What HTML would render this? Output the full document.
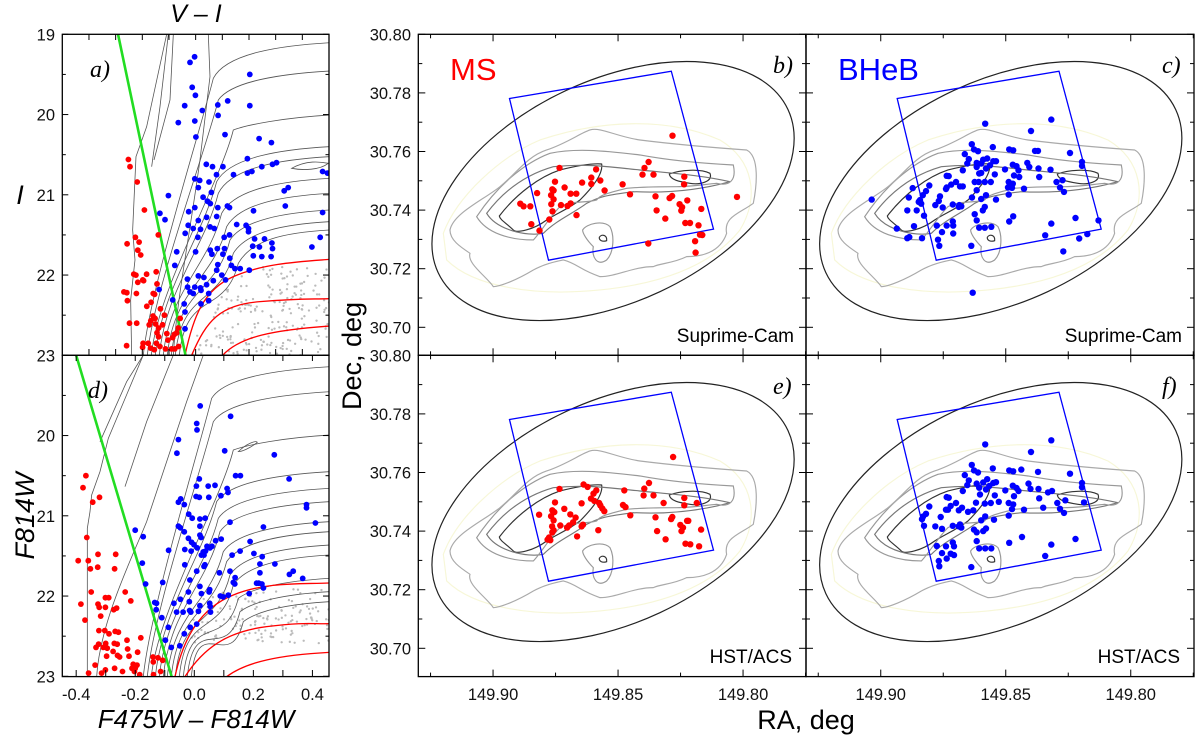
<!DOCTYPE html>
<html><head><meta charset="utf-8">
<style>
html,body{margin:0;padding:0;background:#fff;}
svg{display:block;font-family:"Liberation Sans",sans-serif;}
.tick{font-size:16.5px;fill:#111;}
</style></head>
<body>
<svg id="fig" width="1200" height="741" viewBox="0 0 1200 741" xmlns="http://www.w3.org/2000/svg">
<defs>
<clipPath id="clipA"><rect x="62.3" y="34.3" width="266.7" height="321"/></clipPath>
<clipPath id="clipD"><rect x="62.3" y="355.3" width="266.7" height="321.3"/></clipPath>
<clipPath id="clipB"><rect x="418.3" y="34.3" width="387.7" height="321"/></clipPath>
<clipPath id="clipC"><rect x="806" y="34.3" width="388" height="321"/></clipPath>
<clipPath id="clipE"><rect x="418.3" y="355.3" width="387.7" height="321.3"/></clipPath>
<clipPath id="clipF"><rect x="806" y="355.3" width="388" height="321.3"/></clipPath>
</defs>
<g id="layer"></g>
<text x="196" y="22" font-size="25" font-style="italic" text-anchor="middle">V – I</text>
<text x="20" y="204" font-size="27" font-style="italic" text-anchor="middle">I</text>
<text transform="translate(34,516) rotate(-90)" font-size="27" font-style="italic" text-anchor="middle">F814W</text>
<text x="196" y="728" font-size="26" font-style="italic" text-anchor="middle">F475W – F814W</text>
<text transform="translate(361,356) rotate(-90)" font-size="27" text-anchor="middle">Dec, deg</text>
<text x="806" y="729" font-size="27" text-anchor="middle">RA, deg</text>
<text x="90" y="77" font-size="24" font-style="italic" font-family="Liberation Serif,serif">a)</text>
<text x="88" y="398" font-size="24" font-style="italic" font-family="Liberation Serif,serif">d)</text>
<text x="773" y="73" font-size="24" font-style="italic" font-family="Liberation Serif,serif">b)</text>
<text x="1162" y="73" font-size="24" font-style="italic" font-family="Liberation Serif,serif">c)</text>
<text x="773" y="394" font-size="24" font-style="italic" font-family="Liberation Serif,serif">e)</text>
<text x="1162" y="394" font-size="24" font-style="italic" font-family="Liberation Serif,serif">f)</text>
<text x="450" y="80" font-size="31" fill="#ff0000">MS</text>
<text x="838" y="80" font-size="31" fill="#0000ff">BHeB</text>
<text x="794" y="342" font-size="19" text-anchor="end">Suprime-Cam</text>
<text x="1182" y="342" font-size="19" text-anchor="end">Suprime-Cam</text>
<text x="792" y="663" font-size="19" text-anchor="end">HST/ACS</text>
<text x="1180" y="663" font-size="19" text-anchor="end">HST/ACS</text>
</svg>
<script>
// ---------- CMD data (colour, magnitude) ----------
const cmdTopRedColor=[-.252,-.246,-.219,-.192,-.257,-.226,-.212,-.217,-.206,-.140,-.232,-.224,-.217,-.195,-.184,-.198,-.269,-.256,-.258,-.222,-.148,-.145,-.159,-.154,-.167,-.183,-.132,-.117,-.160,-.152,-.168,-.174,-.150,-.139,-.124,-.145,-.139,-.108,-.080,-.104,-.086,-.071,-.058,-.065,-.259,-.197,-.199,-.169,-.155,-.134,-.113,-.090,-.078,-.064,-.221,-.248,-.178,-.147];
const cmdTopRedMag=[20.56,20.65,20.84,21.19,21.61,21.53,21.59,21.69,21.75,21.50,21.99,22.00,22.09,22.07,21.99,22.06,22.21,22.32,22.22,22.23,21.96,22.11,22.23,22.24,22.34,22.39,22.42,22.50,22.51,22.54,22.57,22.62,22.61,22.66,22.62,22.72,22.77,22.73,22.74,22.81,22.78,22.72,22.54,22.66,22.88,22.85,22.90,22.91,22.93,22.89,22.92,22.92,22.92,22.89,22.60,22.60,22.85,22.85];
const cmdTopBlueColor=[-.004,-.021,-.013,-.001,-.041,.025,-.003,-.065,.083,.084,.120,.001,.110,.203,.203,.238,.284,.040,.063,.102,-.003,.015,.078,.142,.194,.194,.211,.248,.288,.303,.476,.494,.010,.050,.059,.028,.044,.055,.083,.119,.127,-.102,-.134,-.115,-.026,-.003,.010,.041,.079,-.028,-.009,.018,.008,-.039,.054,.070,.107,.127,.154,.189,.198,.198,.221,.258,.286,.217,.332,.347,.336,.476,.467,.436,-.071,-.078,.000,.055,.061,.081,.102,.108,.083,.128,.134,.147,.167,.201,.216,.248,.283,.288,.214,.239,.079,.098,.112,.066,.010,.031,.041,.018,-.003,-.021,-.009,.020,.049,-.030,-.137,-.031,-.086,-.043,-.040,.020,.049,-.040];
const cmdTopBlueMag=[19.28,19.35,19.66,19.76,19.89,19.95,20.08,20.10,19.88,20.01,19.83,20.28,20.25,19.50,19.89,20.30,20.35,20.62,20.65,20.65,20.80,20.82,20.75,20.75,20.55,20.73,20.71,20.65,20.62,20.60,20.71,20.73,20.91,20.84,20.97,21.03,21.08,21.11,21.16,21.14,21.16,21.01,21.23,21.31,21.21,21.16,21.32,21.28,21.27,21.38,21.42,21.43,21.53,21.48,21.40,21.42,21.53,21.50,21.37,21.38,21.42,21.46,21.55,21.55,21.60,21.20,20.95,20.91,21.14,21.22,21.53,21.65,21.71,21.88,21.71,21.69,21.74,21.67,21.74,21.67,21.87,21.79,21.88,21.92,21.92,21.94,21.76,21.77,21.77,21.67,21.64,21.65,21.94,22.00,22.06,22.07,22.01,22.03,22.12,22.16,22.15,22.21,22.23,22.19,22.23,22.15,22.18,22.05,22.31,22.36,22.46,22.36,22.32,22.67];
const cmdBotRedColor=[-.367,-.377,-.344,-.321,-.364,-.393,-.359,-.352,-.326,-.327,-.266,-.270,-.349,-.301,-.290,-.234,-.384,-.326,-.322,-.317,-.370,-.273,-.263,-.301,-.215,-.323,-.303,-.268,-.257,-.289,-.228,-.324,-.300,-.271,-.261,-.308,-.295,-.333,-.275,-.260,-.226,-.192,-.181,-.297,-.253,-.221,-.207,-.194,-.200,-.211,-.336,-.301,-.270,-.243,-.203,-.185,-.140,-.123,-.107,-.138,-.114,-.358,-.314,-.139];
const cmdBotRedMag=[20.50,20.65,20.83,20.77,21.27,21.56,21.56,21.66,21.48,21.64,21.48,21.66,21.95,22.02,22.02,21.95,22.10,22.10,22.14,22.25,22.30,22.17,22.15,22.14,22.06,22.43,22.43,22.44,22.45,22.47,22.55,22.60,22.59,22.59,22.60,22.64,22.65,22.64,22.69,22.74,22.66,22.70,22.52,22.75,22.76,22.75,22.85,22.86,22.90,22.90,22.86,22.92,22.90,22.94,22.94,22.98,22.76,22.77,22.80,22.98,22.94,22.96,22.96,22.82];
const cmdBotBlueColor=[.020,.123,.008,.009,-.054,-.059,.103,.271,.017,.007,.047,.070,.140,.156,.111,.114,.090,.321,.017,.049,.006,-.046,-.034,-.054,.380,.380,.410,-.019,-.007,.019,.037,-.054,-.047,-.034,.121,.234,-.200,-.173,.019,.019,.023,-.020,-.009,-.001,.010,-.011,.043,.072,.060,.053,-.087,-.032,.030,.038,.024,.033,.091,.155,.189,.202,.230,.128,.036,.033,-.176,-.032,.008,-.015,.085,.121,.138,.137,.132,.222,.222,.273,.322,.335,.367,-.107,-.165,.019,.024,.052,.050,-.020,.088,.098,.115,.186,.211,.218,.229,.234,-.069,-.047,-.017,.019,.052,.054,-.134,-.128,-.129,-.060,-.038,-.016,-.012,.014,.055,-.110,-.088,-.034,-.014,.008,-.098,-.078,-.049];
const cmdBotBlueMag=[19.63,19.76,19.85,19.93,20.05,20.22,20.19,20.24,20.54,20.63,20.63,20.62,20.50,20.50,20.66,20.71,20.75,20.54,20.77,20.77,20.76,20.79,20.86,20.83,20.86,20.90,21.09,20.98,21.03,21.04,21.03,21.13,21.15,21.20,21.08,21.14,21.18,21.26,21.13,21.24,21.27,21.28,21.33,21.36,21.40,21.44,21.38,21.31,21.38,21.40,21.43,21.42,21.45,21.44,21.49,21.49,21.29,21.44,21.32,21.47,21.51,21.49,21.61,21.63,21.59,21.61,21.69,21.80,21.71,21.69,21.77,21.85,21.83,21.60,21.71,21.60,21.73,21.69,21.78,21.83,21.85,21.88,21.97,21.92,21.95,21.95,22.00,22.01,21.99,21.97,21.84,21.84,21.85,21.90,22.09,22.04,22.07,22.12,22.09,22.13,22.08,22.09,22.17,22.20,22.20,22.18,22.20,22.19,22.20,22.27,22.39,22.47,22.39,22.35,22.55,22.64,22.62];
const sepTop=[-0.291,-0.038];
const sepBot=[-0.400,-0.077];
const magTicks=[19,20,21,22,23];
const colorTicks=[-0.4,-0.2,0.0,0.2,0.4];

// ---------- Sky data (RA, Dec) ----------
const msSupRA=[149.8734,149.8752,149.8588,149.8607,149.8571,149.8607,149.8644,149.8714,149.8763,149.8758,149.8824,149.8768,149.8758,149.8690,149.8667,149.8728,149.8767,149.8690,149.8702,149.8762,149.8666,149.8775,149.8891,149.8878,149.8851,149.8847,149.8814,149.8554,149.8482,149.8452,149.8378,149.8394,149.8402,149.8358,149.8282,149.8235,149.8236,149.8350,149.8284,149.8294,149.8254,149.8223,149.8244,149.8247,149.8346,149.8311,149.8231,149.8212,149.8167,149.8178,149.8172,149.8163,149.8192,149.8190,149.8379,149.8024];
const msSupDec=[30.7544,30.7497,30.7539,30.7511,30.7501,30.7489,30.7494,30.7477,30.7471,30.7467,30.7458,30.7451,30.7437,30.7456,30.7456,30.7417,30.7420,30.7423,30.7414,30.7396,30.7383,30.7368,30.7422,30.7413,30.7413,30.7352,30.7330,30.7467,30.7488,30.7454,30.7564,30.7544,30.7521,30.7521,30.7654,30.7514,30.7488,30.7447,30.7448,30.7441,30.7420,30.7433,30.7410,30.7398,30.7399,30.7371,30.7356,30.7356,30.7404,30.7348,30.7316,30.7315,30.7294,30.7255,30.7286,30.7445];
const bhebSupRA=[149.9036,149.8582,149.8318,149.8399,149.8636,149.8552,149.8627,149.8611,149.8664,149.8648,149.8486,149.8470,149.8383,149.8371,149.8243,149.8590,149.8574,149.8550,149.8539,149.8598,149.8616,149.8654,149.8563,149.8579,149.8616,149.8472,149.8414,149.8406,149.8457,149.8449,149.8503,149.8369,149.8321,149.8195,149.8195,149.8672,149.8606,149.8598,149.8544,149.8467,149.8446,149.8366,149.8736,149.8728,149.8699,149.8718,149.8736,149.8739,149.8672,149.8624,149.8608,149.8584,149.8560,149.8488,149.8472,149.8491,149.8475,149.8427,149.8297,149.8273,149.8283,149.8267,149.8806,149.8872,149.8819,149.8832,149.8888,149.8843,149.8848,149.8838,149.8856,149.8894,149.8768,149.8782,149.8752,149.8712,149.8686,149.8678,149.8688,149.8635,149.8616,149.8598,149.8579,149.8539,149.8488,149.8584,149.8592,149.8624,149.8616,149.8827,149.8776,149.8736,149.8710,149.8712,149.8606,149.8584,149.8558,149.8470,149.8486,149.8867,149.8936,149.8886,149.8894,149.8835,149.8755,149.8710,149.8771,149.8766,149.8638,149.8342,149.8318,149.8221,149.8129,149.8174,149.8206,149.8270,149.8632,149.8763,149.8683];
const bhebSupDec=[30.7436,30.7695,30.7709,30.7670,30.7625,30.7615,30.7607,30.7601,30.7591,30.7574,30.7607,30.7604,30.7602,30.7602,30.7595,30.7572,30.7576,30.7567,30.7567,30.7559,30.7561,30.7559,30.7553,30.7542,30.7547,30.7555,30.7561,30.7547,30.7550,30.7536,30.7539,30.7542,30.7538,30.7564,30.7551,30.7536,30.7525,30.7527,30.7522,30.7518,30.7513,30.7513,30.7517,30.7516,30.7496,30.7487,30.7477,30.7472,30.7481,30.7496,30.7496,30.7496,30.7496,30.7496,30.7490,30.7477,30.7476,30.7473,30.7496,30.7502,30.7477,30.7462,30.7484,30.7475,30.7465,30.7451,30.7443,30.7434,30.7428,30.7422,30.7399,30.7399,30.7431,30.7417,30.7409,30.7419,30.7417,30.7413,30.7411,30.7443,30.7468,30.7438,30.7451,30.7436,30.7453,30.7411,30.7399,30.7386,30.7365,30.7381,30.7347,30.7347,30.7347,30.7361,30.7340,30.7340,30.7343,30.7379,30.7361,30.7345,30.7337,30.7308,30.7304,30.7304,30.7325,30.7320,30.7299,30.7278,30.7278,30.7314,30.7354,30.7373,30.7365,30.7318,30.7303,30.7259,30.7118,30.7447,30.7481];
const msHstRA=[149.8280,149.8638,149.8622,149.8587,149.8598,149.8734,149.8475,149.8376,149.8395,149.8398,149.8358,149.8318,149.8235,149.8185,149.8235,149.8608,149.8595,149.8576,149.8571,149.8555,149.8563,149.8752,149.8715,149.8646,149.8691,149.8670,149.8816,149.8763,149.8755,149.8768,149.8758,149.8680,149.8696,149.8704,149.8640,149.8646,149.8731,149.8764,149.8758,149.8763,149.8480,149.8470,149.8451,149.8350,149.8283,149.8288,149.8251,149.8224,149.8219,149.8240,149.8246,149.8168,149.8344,149.8310,149.8579,149.8664,149.8776,149.8782,149.8771,149.8230,149.8211,149.8176];
const msHstDec=[30.7653,30.7559,30.7551,30.7539,30.7528,30.7544,30.7539,30.7564,30.7545,30.7522,30.7522,30.7496,30.7513,30.7496,30.7488,30.7511,30.7503,30.7496,30.7488,30.7468,30.7477,30.7498,30.7476,30.7495,30.7457,30.7446,30.7456,30.7471,30.7465,30.7451,30.7437,30.7430,30.7419,30.7412,30.7422,30.7416,30.7419,30.7416,30.7403,30.7396,30.7489,30.7482,30.7454,30.7447,30.7448,30.7441,30.7421,30.7435,30.7435,30.7412,30.7400,30.7405,30.7400,30.7372,30.7403,30.7382,30.7378,30.7371,30.7369,30.7357,30.7355,30.7348];
const bhebHstRA=[149.8582,149.8318,149.8399,149.8636,149.8552,149.8627,149.8611,149.8664,149.8648,149.8486,149.8470,149.8438,149.8371,149.8243,149.8590,149.8574,149.8550,149.8539,149.8616,149.8654,149.8566,149.8579,149.8606,149.8472,149.8409,149.8401,149.8457,149.8449,149.8502,149.8369,149.8331,149.8315,149.8195,149.8195,149.8672,149.8603,149.8544,149.8467,149.8366,149.8736,149.8728,149.8699,149.8720,149.8739,149.8675,149.8619,149.8584,149.8560,149.8528,149.8488,149.8470,149.8475,149.8427,149.8350,149.8294,149.8262,149.8283,149.8267,149.8187,149.8806,149.8819,149.8830,149.8835,149.8827,149.8760,149.8731,149.8688,149.8651,149.8630,149.8582,149.8598,149.8547,149.8488,149.8782,149.8755,149.8712,149.8688,149.8678,149.8683,149.8627,149.8616,149.8590,149.8579,149.8616,149.8776,149.8739,149.8712,149.8707,149.8606,149.8582,149.8558,149.8486,149.8435,149.8755,149.8736,149.8768,149.8766,149.8638,149.8342,149.8318,149.8221,149.8720,149.8707];
const bhebHstDec=[30.7696,30.7710,30.7670,30.7626,30.7614,30.7607,30.7600,30.7591,30.7573,30.7607,30.7604,30.7610,30.7602,30.7596,30.7566,30.7577,30.7564,30.7567,30.7562,30.7557,30.7554,30.7542,30.7548,30.7555,30.7562,30.7544,30.7547,30.7537,30.7539,30.7544,30.7532,30.7537,30.7564,30.7550,30.7537,30.7525,30.7522,30.7519,30.7512,30.7516,30.7514,30.7496,30.7486,30.7473,30.7480,30.7497,30.7494,30.7496,30.7500,30.7496,30.7491,30.7475,30.7473,30.7480,30.7496,30.7505,30.7476,30.7462,30.7498,30.7484,30.7459,30.7450,30.7441,30.7418,30.7448,30.7473,30.7471,30.7466,30.7471,30.7450,30.7437,30.7439,30.7453,30.7416,30.7408,30.7418,30.7416,30.7412,30.7423,30.7405,30.7396,30.7400,30.7409,30.7366,30.7349,30.7348,30.7361,30.7348,30.7341,30.7341,30.7341,30.7360,30.7380,30.7325,30.7306,30.7298,30.7280,30.7277,30.7315,30.7354,30.7373,30.7323,30.7318];
const acsBoxRA=[149.8934,149.8287,149.8118,149.8778];
const acsBoxDec=[30.7781,30.7874,30.7335,30.7229];
const decTicks=[30.80,30.78,30.76,30.74,30.72,30.70];
const raTicks=[149.90,149.85,149.80];

const NS="http://www.w3.org/2000/svg";
const layer=document.getElementById('layer');
function mk(tag,attrs,parent){const e=document.createElementNS(NS,tag);for(const k in attrs)e.setAttribute(k,attrs[k]);(parent||layer).appendChild(e);return e;}

const cmdX={top:c=>62.3+(c+0.5)*266.7, bot:c=>62.3+(c+0.447)*295.3};
const cmdY={top:m=>34.3+(m-19)*80.25, bot:m=>355.3+(m-19)*80.25};
const raX=(ra,col)=>(col===0?418.3:806)+(149.9299-ra)*2500;
const decY=(d,row)=>(row===0?34.3:355.3)+(30.80-d)*2930;

function cmdPanel(which,clip,oy){
  const g=mk('g',{'clip-path':'url(#'+clip+')'});
  
  
  const z=mk('g',{transform:'translate(0,'+oy+') scale(0.3333)'},g);
  
  
  let s=which==='top'?12345:54321;
  const rnd=()=>{s=(s*1103515245+12345)%2147483648;return s/2147483648;};
  for(let i=0;i<260;i++){
    const x=560+rnd()*430, y=800+rnd()*266;
    const yr=which==='top'? 1066-(x-555)*1.6 : 965-(x-525)*1.6;
    const lim=which==='top'?Math.max(yr,790):Math.max(yr,690);
    if(y>lim && (which==='top'||y<965)) mk('circle',{cx:x,cy:(which==='top'?y:y-100),r:3.5,fill:'#bbb'},z);
  }
  const B=which==='top'?1066:965;
  const ends=which==='top'?[128,213,345,440,470,535,580,630,665,690]:[35,110,240,350,400,440,500,530,570,600,670,710,740];
  const knees=which==='top'?[[640,235],[655,300],[700,390],[650,545],[655,580],[665,640],[680,680],[690,720],[700,760],[715,790]]:[[635,130],[640,200],[700,285],[650,440],[655,490],[660,530],[670,590],[680,620],[690,660],[700,690],[715,730],[720,770],[730,800]];
  ends.forEach((ye,i)=>{
    const [kx,ky]=knees[i]; const xb=430+i*12;
    mk('path',{d:`M${xb},${B} C${xb+20},${B-200} ${kx-40},${ky+160} ${kx},${ky} C${kx+40},${ye+30} 850,${ye+8} 990,${ye}`,fill:'none',stroke:'#555','stroke-width':2.4},z);
  });
  if(which==='top'){
    mk('path',{d:'M395,1066 L392,900 L405,780 L398,690 L408,470 L440,380 L500,103',fill:'none',stroke:'#555','stroke-width':2.4},z);
    mk('path',{d:'M455,500 L480,320 L505,103 M462,480 L510,300 L520,103',fill:'none',stroke:'#555','stroke-width':2.4},z);
    mk('path',{d:'M520,1066 C530,900 570,700 600,480 L630,230 L625,103',fill:'none',stroke:'#555','stroke-width':2.4},z);
    mk('path',{d:'M875,505 C920,480 960,485 985,490 C960,510 910,512 875,505 Z',fill:'none',stroke:'#555','stroke-width':2.4},z);
    ['M555,1066 C580,950 610,870 700,830 S900,785 990,778','M575,1066 C620,960 660,915 780,905 S930,898 990,896','M668,1066 C720,1010 820,990 990,978'].forEach(p=>mk('path',{d:p,fill:'none',stroke:'#f00','stroke-width':4},z));
  } else {
    mk('path',{d:'M262,965 L262,520 L270,470 L275,420 L300,350 L325,250 L430,0',fill:'none',stroke:'#555','stroke-width':2.4},z);
    mk('path',{d:'M300,260 L380,80 L430,0 M375,395 L440,200 L520,0',fill:'none',stroke:'#555','stroke-width':2.4},z);
    mk('path',{d:'M290,965 C300,800 400,600 440,500 L560,140 L610,0',fill:'none',stroke:'#555','stroke-width':2.4},z);
    mk('path',{d:'M715,290 C740,265 770,255 772,262 C750,280 725,290 715,290 Z',fill:'none',stroke:'#555','stroke-width':2.4},z);
    ['M525,965 C550,850 600,760 700,720 S900,688 990,684','M555,965 C610,880 680,830 800,815 S940,808 990,806','M680,965 C740,920 840,900 990,892'].forEach(p=>mk('path',{d:p,fill:'none',stroke:'#f00','stroke-width':4},z));
  }
  return g;
}
const gA=cmdPanel('top','clipA',0);
const gD=cmdPanel('bot','clipD',355);

const sl1=mk('line',{x1:cmdX.top(sepTop[0]),y1:cmdY.top(19),x2:cmdX.top(sepTop[1]),y2:cmdY.top(23),stroke:'#22dd22','stroke-width':2.6},gA);


const sl2=mk('line',{x1:cmdX.bot(sepBot[0]),y1:cmdY.bot(19),x2:cmdX.bot(sepBot[1]),y2:cmdY.bot(23),stroke:'#22dd22','stroke-width':2.6},gD);



function dots(g,xs,ys,fx,fy,color,r,name){
  for(let i=0;i<xs.length;i++){
    const c=mk('circle',{cx:fx(xs[i]).toFixed(1),cy:fy(ys[i]).toFixed(1),r:r,fill:color},g);
    
    
  }
}
dots(gA,cmdTopRedColor,cmdTopRedMag,cmdX.top,cmdY.top,'#ff0000',2.9,'ms-star');
dots(gA,cmdTopBlueColor,cmdTopBlueMag,cmdX.top,cmdY.top,'#0000ff',2.9,'bheb-star');
dots(gD,cmdBotRedColor,cmdBotRedMag,cmdX.bot,cmdY.bot,'#ff0000',2.9,'ms-star');
dots(gD,cmdBotBlueColor,cmdBotBlueMag,cmdX.bot,cmdY.bot,'#0000ff',2.9,'bheb-star');

function frame(x,y,w,h,name){const r=mk('rect',{x:x,y:y,width:w,height:h,fill:'none',stroke:'#000','stroke-width':1.3});}
frame(62.3,34.3,266.7,321,'cmd-top-frame');
frame(62.3,355.3,266.7,321.3,'cmd-bottom-frame');
['top','bot'].forEach(w=>{
  for(let m=19;m<=23;m+=0.5){
    const y=cmdY[w](m), L=(m%1===0)?6:3.5;
    mk('line',{x1:62.3,y1:y,x2:62.3+L,y2:y,stroke:'#000'});
    mk('line',{x1:329,y1:y,x2:329-L,y2:y,stroke:'#000'});
  }
  magTicks.forEach(m=>{
    if(w==='bot'&&m===19)return;
    const t=mk('text',{x:55,y:cmdY[w](m)+6,'text-anchor':'end',class:'tick'});
    t.textContent=String(m);
    
    
  });
});
for(let k=-4;k<=4;k++){
  const c=k/10;
  const xt=cmdX.top(c), xb=cmdX.bot(c);
  mk('line',{x1:xt,y1:355.3,x2:xt,y2:349,stroke:'#000'});
  mk('line',{x1:xt,y1:34.3,x2:xt,y2:40,stroke:'#000'});
  mk('line',{x1:xb,y1:676.6,x2:xb,y2:670,stroke:'#000'});
  mk('line',{x1:xb,y1:355.3,x2:xb,y2:361,stroke:'#000'});
}
colorTicks.forEach(c=>{
  const t=mk('text',{x:cmdX.bot(c),y:700,'text-anchor':'middle',class:'tick'});
  t.textContent=c.toFixed(1);
  
  
});

// ---------- Sky panels ----------
const contours=[
 {d:'M150,690 C160,640 250,600 300,560 C350,520 380,470 440,450 C500,430 540,400 570,390 C600,380 650,410 720,420 C800,430 900,440 1040,450 C1080,470 1070,560 1060,610 C1020,640 970,650 980,700 C960,760 900,770 860,770 C820,790 780,790 760,800 C700,800 650,830 600,830 C540,810 530,790 490,780 C440,790 420,800 400,810 C350,840 300,860 280,860 C260,830 200,790 210,760 C180,740 150,720 150,690 Z',s:'#aaa'},
 {d:'M230,650 C290,560 370,490 450,460 C520,445 600,450 720,465 C800,480 900,490 1000,495 C1010,540 990,560 950,550 C900,555 870,560 830,560 C780,560 730,560 680,565 C620,580 600,585 590,600 C560,610 520,600 480,620 C450,650 420,700 400,720 C330,720 260,700 230,650 Z',s:'#999'},
 {d:'M260,640 C320,560 390,520 460,500 C560,490 620,500 720,510 C820,520 900,525 990,545 C900,570 800,580 700,575 C620,585 600,590 560,610 C520,640 470,660 430,700 C380,710 290,690 260,640 Z',s:'#777'},
 {d:'M298,648 C350,580 420,530 480,510 C540,495 580,490 605,492 C610,520 580,560 540,600 C500,630 470,640 440,660 C400,690 350,700 340,690 C320,670 300,660 298,648 Z',s:'#333'},
 {d:'M808,522 C840,510 900,505 930,520 C940,545 900,555 870,550 C840,545 810,540 808,522 Z',s:'#333'},
 {d:'M598,712 C605,700 622,706 620,722 C606,727 597,720 598,712 Z',s:'#333'},
 {d:'M548,690 C560,670 610,660 630,680 C645,710 640,760 620,780 C590,800 575,770 580,740 C560,720 548,700 548,690 Z',s:'#999'},
 {d:'M130,700 C170,590 300,470 420,420 C600,360 800,350 960,420 C1060,480 1080,590 1020,690 C940,790 800,850 600,870 C400,890 220,860 140,780 Z',s:'#f7f7d8'}
];
const skyPanels=[
 {col:0,row:0,clip:'clipB',ra:msSupRA,dec:msSupDec,color:'#ff0000',name:'ms-suprime'},
 {col:1,row:0,clip:'clipC',ra:bhebSupRA,dec:bhebSupDec,color:'#0000ff',name:'bheb-suprime'},
 {col:0,row:1,clip:'clipE',ra:msHstRA,dec:msHstDec,color:'#ff0000',name:'ms-hst'},
 {col:1,row:1,clip:'clipF',ra:bhebHstRA,dec:bhebHstDec,color:'#0000ff',name:'bheb-hst'}
];
skyPanels.forEach(p=>{
  const g=mk('g',{'clip-path':'url(#'+p.clip+')'});
  
  
  const ox=p.col*388+400, oy=p.row*321;
  const cg=mk('g',{transform:`translate(${ox},${oy}) scale(0.3333)`},g);
  
  
  contours.slice().reverse().forEach(c=>mk('path',{d:c.d,fill:'none',stroke:c.s,'stroke-width':3.5},cg));
  const cx=raX(149.8520,p.col), cy=decY(30.7465,p.row);
  const el=mk('ellipse',{cx:cx,cy:cy,rx:193,ry:111,transform:`rotate(-25 ${cx} ${cy})`,fill:'none',stroke:'#222','stroke-width':1.2},g);
  
  
  const pts=acsBoxRA.map((r,i)=>raX(r,p.col).toFixed(1)+','+decY(acsBoxDec[i],p.row).toFixed(1)).join(' ');
  const bx=mk('polygon',{points:pts,fill:'none',stroke:'#0000ff','stroke-width':1.3},g);
  
  
  dots(g,p.ra,p.dec,r=>raX(r,p.col),d=>decY(d,p.row),p.color,3.2,p.name.split('-')[0]+'-star');
  const x0=p.col===0?418.3:806, x1=p.col===0?806:1194, y0=p.row===0?34.3:355.3, y1=p.row===0?355.3:676.6;
  frame(x0,y0,x1-x0,y1-y0,'sky-frame-'+p.name);
  for(let d=30.69;d<=30.8001;d+=0.01){
    const y=decY(d,p.row); if(y>y1+0.5)continue;
    const L=(Math.round(d*100)%2===0)?7:4;
    mk('line',{x1:x0,y1:y,x2:x0+L,y2:y,stroke:'#000'});
    mk('line',{x1:x1,y1:y,x2:x1-L,y2:y,stroke:'#000'});
  }
  for(let r=149.925;r>149.77;r-=0.025){
    const x=raX(r,p.col); if(x<x0||x>x1)continue;
    const L=(Math.round(r*1000)%50===0)?7:4;
    mk('line',{x1:x,y1:y1,x2:x,y2:y1-L,stroke:'#000'});
    mk('line',{x1:x,y1:y0,x2:x,y2:y0+L,stroke:'#000'});
  }
});
[0,1].forEach(row=>decTicks.forEach(d=>{
  const t=mk('text',{x:411,y:decY(d,row)+6,'text-anchor':'end',class:'tick'});
  t.textContent=d.toFixed(2);
  
  
}));
[0,1].forEach(col=>raTicks.forEach(r=>{
  const t=mk('text',{x:raX(r,col),y:700,'text-anchor':'middle',class:'tick'});
  t.textContent=r.toFixed(2);
  
  
}));
</script>
</body></html>
